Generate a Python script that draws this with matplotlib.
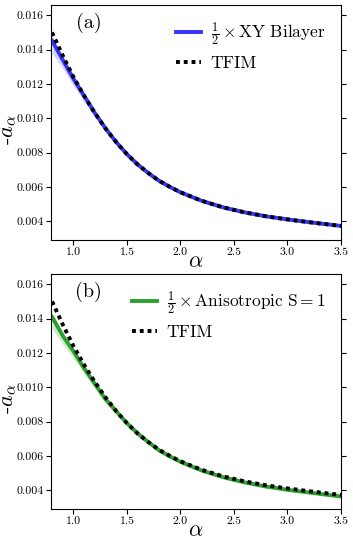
import matplotlib
matplotlib.use('Agg')
import matplotlib.pyplot as plt

plt.rcParams['font.family'] = 'serif'
plt.rcParams['font.serif'] = ['cmr10', 'DejaVu Serif']
plt.rcParams['mathtext.fontset'] = 'cm'
plt.rcParams['axes.formatter.use_mathtext'] = True

# values
alpha = [0.8, 0.9, 1.0, 1.1, 1.2, 1.3, 1.4, 1.5, 1.6, 1.7, 1.8, 1.9, 2.0,
         2.2, 2.4, 2.6, 2.8, 3.0, 3.2, 3.5]
tfim = [0.0150, 0.01365, 0.0124, 0.0113, 0.0103, 0.0094, 0.0086, 0.0079, 0.0073, 0.0068,
        0.00635, 0.0060, 0.00568, 0.00518, 0.0048, 0.00451, 0.00428, 0.0041, 0.00394, 0.00372]

xy = [0.01452, 0.0134, 0.0123, 0.0113, 0.0103, 0.0094, 0.0086, 0.0079, 0.0073, 0.0068,
      0.00635, 0.0060, 0.00568, 0.00518, 0.0048, 0.00451, 0.00428, 0.0041, 0.00394, 0.00372]
xy_lo = [0.0138, 0.0129, 0.0119, 0.0110, 0.0101, 0.0093, 0.0085, 0.0078, 0.0072, 0.0067,
         0.00627, 0.00592, 0.0056, 0.0051, 0.00473, 0.00444, 0.00421, 0.00404, 0.00388, 0.00366]
xy_hi = [0.0147, 0.0136, 0.0125, 0.0114, 0.0104, 0.0095, 0.0087, 0.0080, 0.0074, 0.0069,
         0.00643, 0.00608, 0.00576, 0.00526, 0.00487, 0.00458, 0.00435, 0.00416, 0.004, 0.00378]

s1 = [0.0141, 0.0130, 0.0121, 0.0111, 0.0102, 0.0093, 0.0086, 0.0079, 0.0073, 0.0068,
      0.00632, 0.00597, 0.00565, 0.00514, 0.00475, 0.00445, 0.00421, 0.00402, 0.00386, 0.00363]
s1_lo = [0.0134, 0.0125, 0.0117, 0.0108, 0.0099, 0.0091, 0.0084, 0.0078, 0.0072, 0.0067,
         0.00625, 0.0059, 0.00558, 0.00508, 0.00469, 0.00439, 0.00415, 0.00396, 0.0038, 0.00357]
s1_hi = [0.0142, 0.0131, 0.0122, 0.0112, 0.0103, 0.0094, 0.0087, 0.0080, 0.0074, 0.0069,
         0.00638, 0.00603, 0.00571, 0.0052, 0.00481, 0.00451, 0.00427, 0.00408, 0.00392, 0.00369]

xticks = [1.0, 1.5, 2.0, 2.5, 3.0, 3.5]
yticks = [0.004, 0.006, 0.008, 0.010, 0.012, 0.014, 0.016]

panels = [('(a)', r'$\frac{1}{2}\times\mathrm{XY\ Bilayer}$', xy, xy_lo, xy_hi, (0.2, 0.2, 1.0)),
          ('(b)', r'$\frac{1}{2}\times\mathrm{Anisotropic\ S}=\mathrm{1}$', s1, s1_lo, s1_hi, '#2ca02c')]

fig = plt.figure(figsize=(3.53, 5.41), dpi=100)
boxes = [[51/353, 1-240/541, 290/353, 235/541], [51/353, 1-509/541, 290/353, 235/541]]

for box, (lab, name, y, lo, hi, c) in zip(boxes, panels):
    ax = fig.add_axes(box)
    ax.fill_between(alpha, lo, hi, color=c, alpha=0.22, lw=0)
    ax.plot(alpha, y, color=c, lw=2.8, label=name)
    ax.plot(alpha, tfim, color='black', lw=2.8, dashes=(1, 1), label='TFIM')
    ax.set_xlim(0.79, 3.5)
    ax.set_ylim(0.0029, 0.0166)
    ax.set_xticks(xticks)
    ax.set_xticklabels(['%.1f' % t for t in xticks])
    ax.set_yticks(yticks)
    ax.set_yticklabels(['%.3f' % t for t in yticks])
    ax.tick_params(labelsize=8.5, right=True, pad=2)
    ax.set_xlabel(r'$\alpha$', fontsize=16)
    ax.xaxis.set_label_coords(0.5, -0.05)
    ax.set_ylabel(r'-$a_\alpha$', fontsize=16)
    ax.yaxis.set_label_coords(-0.112, 0.47)
    ax.text(0.129, 0.923, lab, transform=ax.transAxes, fontsize=14.5, ha='center', va='center')
    ax.legend(loc='upper right', frameon=False, fontsize=12.5, handlelength=1.45,
              handletextpad=0.55, labelspacing=0.45)

fig.savefig('out.png', dpi=100)
